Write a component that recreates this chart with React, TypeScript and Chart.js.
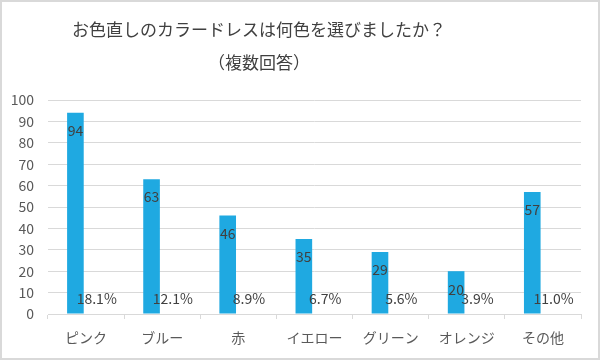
import React, { useEffect, useRef } from "react";
import { Chart, registerables } from "chart.js";

Chart.register(...registerables);

const categories = ["ピンク", "ブルー", "赤", "イエロー", "グリーン", "オレンジ", "その他"];
const counts = [94, 63, 46, 35, 29, 20, 57];
const percents = ["18.1%", "12.1%", "8.9%", "6.7%", "5.6%", "3.9%", "11.0%"];
const titleLines = ["お色直しのカラードレスは何色を選びましたか？", "（複数回答）"];
const yTicks = [0, 10, 20, 30, 40, 50, 60, 70, 80, 90, 100];

const FONT = "'Noto Sans CJK JP', 'Noto Sans', sans-serif";

const framePlugin = {
  id: "frame",
  beforeDraw(chart: any) {
    const { ctx, width, height } = chart;
    ctx.save();
    ctx.fillStyle = "#ffffff";
    ctx.fillRect(0, 0, width, height);
    ctx.strokeStyle = "#d9d9d9";
    ctx.lineWidth = 2;
    ctx.strokeRect(1, 1, width - 2, height - 2);
    ctx.restore();
  },
};

const titlePlugin = {
  id: "customTitle",
  afterDraw(chart: any) {
    const { ctx } = chart;
    ctx.save();
    ctx.fillStyle = "#404040";
    ctx.font = `17px ${FONT}`;
    ctx.textAlign = "center";
    ctx.textBaseline = "middle";
    ctx.fillText(titleLines[0], 259, 30);
    ctx.fillText(titleLines[1], 259, 63);
    ctx.restore();
  },
};

const labelPlugin = {
  id: "barLabels",
  afterDatasetsDraw(chart: any) {
    const { ctx } = chart;
    const m0 = chart.getDatasetMeta(0);
    const m1 = chart.getDatasetMeta(1);
    const y0 = chart.scales.y.getPixelForValue(0);
    ctx.save();
    ctx.fillStyle = "#404040";
    ctx.font = `14px ${FONT}`;
    ctx.textAlign = "center";
    ctx.textBaseline = "middle";
    m0.data.forEach((bar: any, i: number) => {
      ctx.fillText(String(counts[i]), bar.x, bar.y + 18);
    });
    m1.data.forEach((bar: any, i: number) => {
      ctx.fillText(percents[i], bar.x, y0 - 15);
    });
    ctx.restore();
  },
};

export default function App() {
  const ref = useRef<HTMLCanvasElement>(null);
  useEffect(() => {
    document.body.style.margin = "0";
    const chart = new Chart(ref.current!, {
      type: "bar",
      data: {
        labels: categories,
        datasets: [
          {
            data: counts,
            backgroundColor: "#1fa9e1",
            categoryPercentage: 0.56,
            barPercentage: 0.78,
          },
          {
            data: counts.map(() => 0),
            backgroundColor: "rgba(0,0,0,0)",
            categoryPercentage: 0.56,
            barPercentage: 0.78,
          },
        ],
      },
      options: {
        animation: false,
        responsive: false,
        maintainAspectRatio: false,
        layout: { padding: { left: 0, right: 19, top: 100, bottom: 0 } },
        plugins: {
          legend: { display: false },
          tooltip: { enabled: false },
          title: { display: false },
        },
        scales: {
          x: {
            afterFit(scale: any) {
              scale.height = 46;
            },
            grid: {
              drawOnChartArea: false,
              drawTicks: true,
              tickLength: 5,
              color: "#d9d9d9",
            },
            border: { display: true, color: "#d9d9d9" },
            ticks: {
              color: "#595959",
              font: { family: FONT, size: 14 },
              padding: 10,
              maxRotation: 0,
              autoSkip: false,
            },
          },
          y: {
            min: 0,
            max: 100,
            afterFit(scale: any) {
              scale.width = 48;
            },
            afterBuildTicks(scale: any) {
              scale.ticks = yTicks.map((v) => ({ value: v }));
            },
            grid: { color: "#d9d9d9", drawTicks: false },
            border: { display: false },
            ticks: {
              color: "#595959",
              font: { family: FONT, size: 14 },
              padding: 14,
            },
          },
        },
      },
      plugins: [framePlugin, titlePlugin, labelPlugin],
    });
    return () => chart.destroy();
  }, []);
  return (
    <div style={{ position: "absolute", left: 0, top: 0, width: 600, height: 360 }}>
      <canvas ref={ref} width={600} height={360} style={{ display: "block" }} />
    </div>
  );
}
